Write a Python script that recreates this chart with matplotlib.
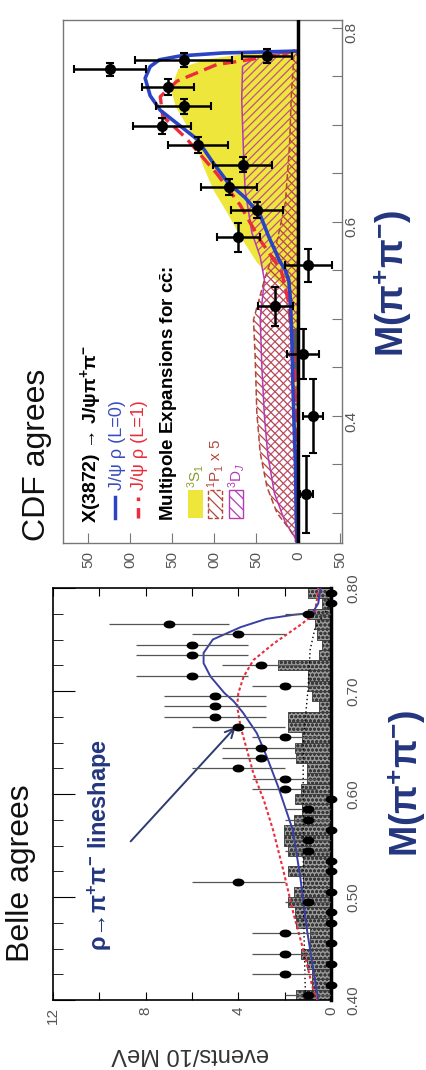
import numpy as np
import matplotlib
matplotlib.use("Agg")
import matplotlib.pyplot as plt
from matplotlib.patches import Rectangle
from matplotlib.lines import Line2D
from matplotlib.path import Path

plt.rcParams["font.family"] = ["Liberation Sans", "DejaVu Sans"]
plt.rcParams["mathtext.fontset"] = "custom"
plt.rcParams["mathtext.rm"] = "Liberation Sans"
plt.rcParams["mathtext.it"] = "Liberation Sans:italic"
plt.rcParams["mathtext.bf"] = "Liberation Sans:bold"
plt.rcParams["hatch.linewidth"] = 0.9

W, H = 427, 1070


def fx(px):
    return px / W


def fy(py):
    return 1 - py / H


# ---------------- CDF data (counts vs M(pi pi)) ----------------
cdf_mass = [0.771, 0.767, 0.757, 0.739, 0.719, 0.699, 0.679, 0.659, 0.636, 0.612,
            0.584, 0.555, 0.513, 0.464, 0.400, 0.319]
cdf_counts = [37, 136, 224, 155, 136, 162, 119, 66, 82, 49, 71, -12, 27, -6, -18, -10]
cdf_count_err = [30, 58, 43, 31, 33, 35, 36, 35, 33, 31, 26, 28, 21, 19, 12, 8]
cdf_mass_err = [0.007, 0.007, 0.007, 0.008, 0.008, 0.008, 0.008, 0.008, 0.008, 0.008,
                0.015, 0.017, 0.020, 0.026, 0.038, 0.040]

blue_mass = [0.27, 0.30, 0.35, 0.40, 0.43, 0.47, 0.52, 0.54, 0.55, 0.56, 0.585, 0.607,
             0.625, 0.640, 0.662, 0.685, 0.700, 0.715, 0.730, 0.748, 0.760, 0.767,
             0.771, 0.774, 0.776]
blue_counts = [1, 2, 3, 5, 6, 7, 9, 11, 15, 22, 35, 45, 63, 83, 102, 120, 142, 164,
               176, 182, 176, 165, 140, 90, 0]

red_mass = [0.27, 0.30, 0.35, 0.40, 0.45, 0.49, 0.52, 0.55, 0.581, 0.6175, 0.650,
            0.686, 0.709, 0.729, 0.745, 0.762, 0.772, 0.777]
red_counts = [2, 2, 2, 3, 4, 8, 12, 20, 45, 69, 97, 133, 161, 164, 144, 97, 22, 0]

s1_mass = [0.27, 0.30, 0.35, 0.40, 0.45, 0.50, 0.53, 0.558, 0.585, 0.610, 0.633, 0.657,
           0.688, 0.719, 0.737, 0.758, 0.768, 0.774, 0.777]
s1_counts = [1, 1, 2, 3, 5, 8, 15, 49, 69, 85, 101, 113, 125, 146, 152, 143, 110, 60, 0]

d_mass = [0.27, 0.29, 0.32, 0.36, 0.40, 0.45, 0.50, 0.54, 0.564, 0.589, 0.633, 0.674,
          0.726, 0.760, 0.770, 0.776]
d_counts = [0, 15, 28, 36, 40, 43, 45, 40, 45, 55, 63, 65, 67, 66, 50, 0]

p_mass = [0.27, 0.283, 0.30, 0.327, 0.362, 0.403, 0.461, 0.499, 0.54, 0.58, 0.62,
          0.68, 0.73, 0.77, 0.776]
p_counts = [0, 10, 25, 37, 45, 49, 51, 53, 40, 25, 15, 10, 8, 5, 0]

# small grey side-band block near 0.46
cdf_band_mass = 0.4635
cdf_band_width = 0.053
cdf_band_counts = 6

cdf_ticks = [250, 200, 150, 100, 50, 0, -50]
cdf_ticklabels = ["50", "00", "50", "00", "50", "0", "50"]
cdf_mass_ticks = [0.30, 0.35, 0.40, 0.45, 0.50, 0.55, 0.60, 0.65, 0.70, 0.75, 0.80]
cdf_mass_labels = ["", "", "0.4", "", "", "", "0.6", "", "", "", "0.8"]

# ---------------- Belle data ----------------
belle_mass = [0.405, 0.415, 0.425, 0.435, 0.445, 0.455, 0.465, 0.475, 0.485, 0.495,
              0.505, 0.515, 0.525, 0.535, 0.545, 0.555, 0.565, 0.575, 0.585, 0.595,
              0.605, 0.615, 0.625, 0.635, 0.645, 0.655, 0.665, 0.675, 0.685, 0.695,
              0.705, 0.715, 0.725, 0.735, 0.745, 0.755, 0.765, 0.775, 0.785, 0.795]
belle_counts = [1, 0, 2, 0, 2, 0, 2, 0, 0, 1,
                0, 4, 0, 0, 1, 1, 0, 1, 1, 0,
                2, 2, 4, 3, 3, 2, 4, 5, 5, 5,
                2, 6, 3, 6, 6, 4, 7, 1, 0, 0]
belle_err = [1.0, 0, 1.4, 0, 1.4, 0, 1.4, 0, 0, 1.0,
             0, 2.0, 0, 0, 1.0, 1.0, 0, 1.0, 1.0, 0,
             1.4, 1.4, 2.0, 1.7, 1.7, 1.4, 2.0, 2.2, 2.2, 2.2,
             1.4, 2.4, 1.7, 2.4, 2.4, 2.0, 2.6, 1.0, 0, 0]
belle_bkg = [1.5, 0.8, 0.8, 1.05, 1.3, 0.9, 0.9, 1.5, 1.55, 1.85,
             1.6, 1.2, 1.85, 1.2, 1.85, 2.05, 2.05, 1.6, 1.26, 1.55,
             1.3, 1.05, 1.05, 1.5, 1.55, 1.26, 1.85, 1.85, 0.5, 0.8,
             1.0, 1.0, 2.3, 0.5, 0.4, 0.6, 0.7, 1.0, 0.4, 1.0]

bfit_mass = [0.40, 0.45, 0.50, 0.55, 0.60, 0.65, 0.70, 0.74, 0.76, 0.775, 0.78, 0.80]
bfit_counts = [1.1, 1.15, 1.2, 1.2, 1.2, 1.2, 1.0, 0.9, 0.7, 0.3, 0.15, 0.1]

bblue_mass = [0.40, 0.43, 0.47, 0.52, 0.565, 0.607, 0.636, 0.659, 0.679, 0.690, 0.698,
              0.714, 0.727, 0.737, 0.750, 0.762, 0.770, 0.774, 0.776, 0.785, 0.80]
bblue_counts = [0.55, 0.77, 1.05, 1.33, 1.65, 2.28, 2.77, 3.2, 3.8, 4.2, 4.6,
                5.2, 5.5, 5.5, 5.1, 3.9, 2.8, 1.6, 0.8, 0.55, 0.45]

bred_mass = [0.40, 0.41, 0.449, 0.484, 0.526, 0.565, 0.594, 0.62, 0.643, 0.665, 0.685,
             0.698, 0.714, 0.730, 0.746, 0.764, 0.775, 0.79, 0.80]
bred_counts = [0.6, 0.77, 1.2, 1.62, 2.06, 2.5, 2.9, 3.35, 3.63, 3.9, 4.05,
               4.0, 3.77, 3.35, 2.48, 1.33, 0.7, 0.6, 0.55]

belle_ticks = [12, 10, 8, 6, 4, 2, 0]
belle_ticklabels = ["12", "", "8", "", "4", "", "0"]
belle_mass_ticks = [0.40, 0.50, 0.60, 0.70, 0.80]
belle_mass_labels = ["0.40", "0.50", "0.60", "0.70", "0.80"]

# colours
YELLOW = "#eee63a"
BLUE = "#2b44c4"
RED = "#ea2c3c"
BROWN = "#b4463c"
MAGENTA = "#b43cb4"
NAVY = "#23367e"
GRAY = "#555555"

fig = plt.figure(figsize=(W / 100, H / 100), dpi=100)

# ================= CDF panel (rotated) =================
ax1 = fig.add_axes([fx(63), fy(543), (342 - 63) / W, (543 - 20) / H])
ax1.set_xlim(279.8, -52.4)
ax1.set_ylim(0.269, 0.808)

ax1.fill_betweenx(s1_mass, 0, s1_counts, color=YELLOW, lw=0, zorder=1)
ax1.fill_betweenx(d_mass, 0, d_counts, facecolor="none", edgecolor="#c0508a",
                  hatch="////", lw=0, zorder=2)
ax1.plot(d_counts, d_mass, color=MAGENTA, lw=1.1, zorder=3)
ax1.fill_betweenx(p_mass, 0, p_counts, facecolor="none", edgecolor=BROWN,
                  hatch="\\\\\\\\", lw=0, zorder=2)
ax1.plot(p_counts, p_mass, color=BROWN, lw=1.1, ls=(0, (4, 2)), zorder=3)
ax1.barh([cdf_band_mass], [cdf_band_counts], height=cdf_band_width, left=0,
         color="#5a5a5a", lw=0, zorder=3)
ax1.plot(red_counts, red_mass, color=RED, lw=2.4, ls=(0, (4, 2)), zorder=4)
ax1.plot(blue_counts, blue_mass, color=BLUE, lw=2.6, zorder=5)
ax1.axvline(0, color="black", lw=2.5, zorder=6)
ax1.errorbar(cdf_counts, cdf_mass, xerr=cdf_count_err, yerr=cdf_mass_err, fmt="o",
             color="black", ms=7, elinewidth=1.8, capsize=3, capthick=1.5, zorder=7)

for sp in ax1.spines.values():
    sp.set_color("#777777")
    sp.set_linewidth(1.0)
ax1.set_xticks(cdf_ticks)
ax1.set_xticklabels(cdf_ticklabels)
ax1.yaxis.tick_right()
ax1.set_yticks(cdf_mass_ticks)
ax1.set_yticklabels(cdf_mass_labels)
ax1.tick_params(axis="x", direction="in", length=7, color="#777777", labelrotation=90,
                labelsize=11, labelcolor=GRAY, pad=6)
ax1.tick_params(axis="y", direction="in", length=7, color="#777777", labelrotation=90,
                labelsize=11, labelcolor=GRAY, pad=2)

# CDF legend (figure pixel coords, rotated)
fig.text(fx(91), fy(523), "X(3872) → J/ψπ$^{\\mathbf{+}}$π$^{\\mathbf{-}}$", rotation=90,
         rotation_mode="anchor", ha="left", va="center", fontsize=14, color="black",
         fontweight="bold")
fig.add_artist(Line2D([fx(115), fx(115)], [fy(518), fy(497)], color=BLUE, lw=2.5))
fig.text(fx(117), fy(490), "J/ψ ρ (L=0)", rotation=90, rotation_mode="anchor",
         ha="left", va="center", fontsize=13, color="#3a4cc0")
fig.add_artist(Line2D([fx(138), fx(138)], [fy(518), fy(497)], color=RED, lw=2.5,
                      ls=(0, (3, 2))))
fig.text(fx(140), fy(490), "J/ψ ρ (L=1)", rotation=90, rotation_mode="anchor",
         ha="left", va="center", fontsize=13, color=RED)
fig.text(fx(169), fy(521), r"Multipole Expansions for c$\bar{\mathbf{c}}$:", rotation=90,
         rotation_mode="anchor", ha="left", va="center", fontsize=13.5, color="black",
         fontweight="bold")
fig.add_artist(Rectangle((fx(188), fy(518)), 15 / W, 28 / H, transform=fig.transFigure,
                         facecolor=YELLOW, edgecolor="none"))
fig.add_artist(Rectangle((fx(208), fy(518)), 14 / W, 28 / H, transform=fig.transFigure,
                         facecolor="none", edgecolor=BROWN, hatch="\\\\\\", lw=1.0,
                         ls=(0, (3, 1.5))))
fig.add_artist(Rectangle((fx(229), fy(518)), 14 / W, 28 / H, transform=fig.transFigure,
                         facecolor="none", edgecolor=MAGENTA, hatch="\\\\\\", lw=1.0))
fig.text(fx(196), fy(488), r"$^3$S$_1$", rotation=90, rotation_mode="anchor",
         ha="left", va="center", fontsize=11, color="#8c9a2c")
fig.text(fx(216), fy(488), r"$^1$P$_1$ x 5", rotation=90, rotation_mode="anchor",
         ha="left", va="center", fontsize=11, color=BROWN)
fig.text(fx(237), fy(488), r"$^3$D$_J$", rotation=90, rotation_mode="anchor",
         ha="left", va="center", fontsize=11, color=MAGENTA)

# ================= Belle panel (rotated) =================
ax2 = fig.add_axes([fx(53), fy(1000), (331 - 53) / W, (1000 - 588) / H])
ax2.set_xlim(12, 0)
ax2.set_ylim(0.40, 0.80)

ax2.barh(belle_mass, belle_bkg, height=0.01, left=0, color="#9a9a9a", hatch="oooo",
         edgecolor="#3a3a3a", lw=0.6, zorder=1)
ax2.plot(bfit_counts, bfit_mass, color="black", lw=1.0, ls=(0, (1, 2)), zorder=2)
ax2.plot(bred_counts, bred_mass, color=RED, lw=1.5, ls=(0, (1.5, 1.2)), zorder=3)
ax2.plot(bblue_counts, bblue_mass, color="#3a3fa6", lw=1.4, zorder=4)

theta = np.linspace(0, 2 * np.pi, 41)
ellipse = Path(np.column_stack([1.6 * np.cos(theta), np.sin(theta)]), closed=True)
ax2.errorbar(belle_counts, belle_mass, xerr=belle_err, fmt="none", ecolor="#555555",
             elinewidth=0.9, zorder=5)
ax2.plot(belle_counts, belle_mass, ls="none", marker=ellipse, ms=7.5, color="black",
         zorder=6, clip_on=False)

for sp in ax2.spines.values():
    sp.set_color("black")
    sp.set_linewidth(1.2)
ax2.spines["right"].set_linewidth(2.5)
ax2.set_xticks(belle_ticks)
ax2.set_xticklabels(belle_ticklabels)
ax2.xaxis.set_ticks_position("both")
ax2.yaxis.tick_left()
ax2.set_yticks(belle_mass_ticks)
ax2.set_yticks([0.425, 0.45, 0.475, 0.525, 0.55, 0.575, 0.625, 0.65, 0.675, 0.725,
                0.75, 0.775], minor=True)
ax2.set_yticklabels([])
ax2.tick_params(axis="x", direction="in", length=6, labelrotation=90, labelsize=11,
                labelcolor=GRAY, pad=5)
ax2.tick_params(axis="y", which="major", direction="in", length=16)
ax2.tick_params(axis="y", which="minor", direction="in", length=7)
for m, lab in zip(belle_mass_ticks, belle_mass_labels):
    ax2.text(1.055, m, lab, transform=ax2.get_yaxis_transform(), rotation=90,
             ha="left", va="center", fontsize=11, color=GRAY, clip_on=False)

ax2.annotate("", xy=(4.04, 0.667), xytext=(8.73, 0.552),
             arrowprops=dict(arrowstyle="->", color="#2e3a70", lw=1.4,
                             mutation_scale=16))

fig.text(fx(190), fy(1054), "events/10 MeV", rotation=180, ha="center", va="center",
         fontsize=17, color="#333333")

# titles and axis labels
fig.text(fx(37), fy(455), "CDF agrees", rotation=90, ha="center", va="center",
         fontsize=23, color="#111111")
fig.text(fx(21), fy(873), "Belle agrees", rotation=90, ha="center", va="center",
         fontsize=23, color="#111111")
fig.text(fx(100), fy(845), "ρ→π$^{\\mathbf{+}}$π$^{\\mathbf{-}}$ lineshape", rotation=90,
         ha="center", va="center", fontsize=17, color=NAVY, fontweight="bold")
fig.text(fx(393), fy(283), "M(π$^{\\mathbf{+}}$π$^{\\mathbf{-}}$)", rotation=90,
         ha="center", va="center", fontsize=27, color=NAVY, fontweight="bold")
fig.text(fx(407), fy(783), "M(π$^{\\mathbf{+}}$π$^{\\mathbf{-}}$)", rotation=90,
         ha="center", va="center", fontsize=27, color=NAVY, fontweight="bold")

fig.savefig("out.png", dpi=100)
